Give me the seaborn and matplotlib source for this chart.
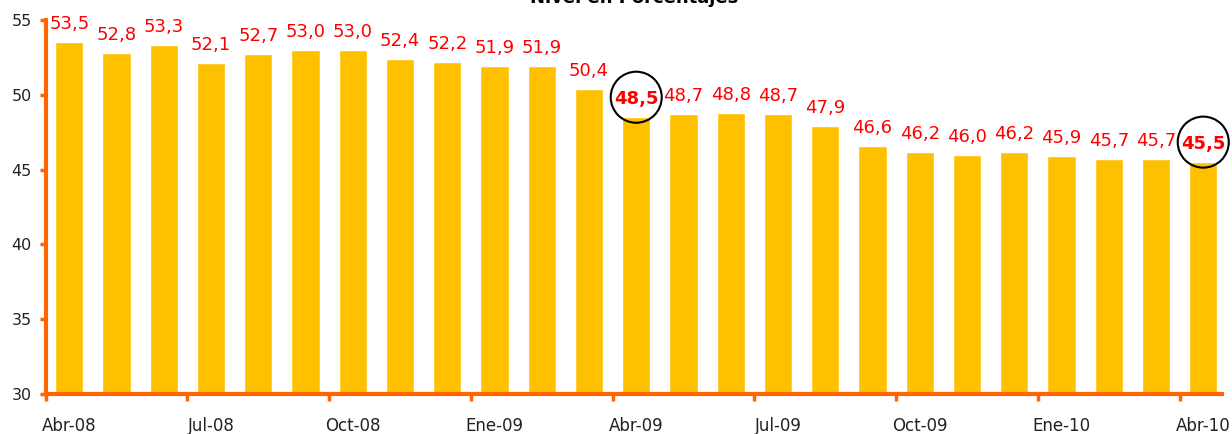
import matplotlib
matplotlib.use("Agg")
import matplotlib.pyplot as plt
import numpy as np
import pandas as pd
import seaborn as sns

MONTHS = [
    "Abr-08", "May-08", "Jun-08", "Jul-08", "Ago-08", "Sep-08", "Oct-08", "Nov-08", "Dic-08",
    "Ene-09", "Feb-09", "Mar-09", "Abr-09", "May-09", "Jun-09", "Jul-09", "Ago-09", "Sep-09",
    "Oct-09", "Nov-09", "Dic-09", "Ene-10", "Feb-10", "Mar-10", "Abr-10",
]
VALUES = [
    53.5, 52.8, 53.3, 52.1, 52.7, 53.0, 53.0, 52.4, 52.2, 51.9, 51.9, 50.4, 48.5,
    48.7, 48.8, 48.7, 47.9, 46.6, 46.2, 46.0, 46.2, 45.9, 45.7, 45.7, 45.5,
]
HIGHLIGHT = ["Abr-09", "Abr-10"]
TITLE = "Nivel en Porcentajes"

BAR_COLOR = "#FFC000"
AXIS_COLOR = "#FF6600"

df = pd.DataFrame({"mes": MONTHS, "valor": VALUES})

sns.set_theme(style="white")
plt.rcParams["font.family"] = ["DejaVu Sans"]

fig = plt.figure(figsize=(12.32, 4.34), dpi=100)
ax = fig.add_axes([0.037, 0.092, 0.955, 0.862])

sns.barplot(data=df, x="mes", y="valor", color=BAR_COLOR, width=0.6,
            saturation=1, ax=ax)

ax.set_ylim(30, 55)
ax.set_xlim(-0.5, 24.4)
ax.set_yticks(np.arange(30, 56, 5))
ax.set_yticklabels([str(v) for v in range(30, 56, 5)], fontsize=11.5, color="#222222")

# category ticks between bars, labels every 3 months
label_idx = list(range(0, len(MONTHS), 3))
ax.set_xticks([i - 0.5 for i in label_idx])
ax.set_xticklabels([])
ax.tick_params(axis="x", bottom=True, length=5, width=2.5, color=AXIS_COLOR, direction="out")
ax.tick_params(axis="y", left=True, length=4, width=2.5, color=AXIS_COLOR, direction="out", pad=6)
for i in label_idx:
    ax.text(i, -0.06, MONTHS[i], transform=ax.get_xaxis_transform(),
            ha="center", va="top", fontsize=12, color="#222222")

for side in ["top", "right"]:
    ax.spines[side].set_visible(False)
for side in ["left", "bottom"]:
    ax.spines[side].set_color(AXIS_COLOR)
    ax.spines[side].set_linewidth(3)

ax.set_xlabel("")
ax.set_ylabel("")

for i, (m, v) in enumerate(zip(MONTHS, VALUES)):
    label = f"{v:.1f}".replace(".", ",")
    bold = m in HIGHLIGHT
    ax.annotate(label, (i, v), xytext=(0, 13), textcoords="offset points",
                ha="center", va="center", fontsize=13, color="#FF0000",
                fontweight="bold" if bold else "normal")
    if bold:
        circ_y = ax.transData.inverted().transform(
            ax.transData.transform((i, v)) + np.array([0, 20]))[1]
        ax.scatter([i], [circ_y], s=1350, facecolors="none",
                   edgecolors="black", linewidths=1.5, zorder=5, clip_on=False)

fig.text(0.515, 0.992, TITLE, ha="center", va="baseline", fontsize=13,
         fontweight="bold", color="black")

fig.savefig("out.png", dpi=100)
